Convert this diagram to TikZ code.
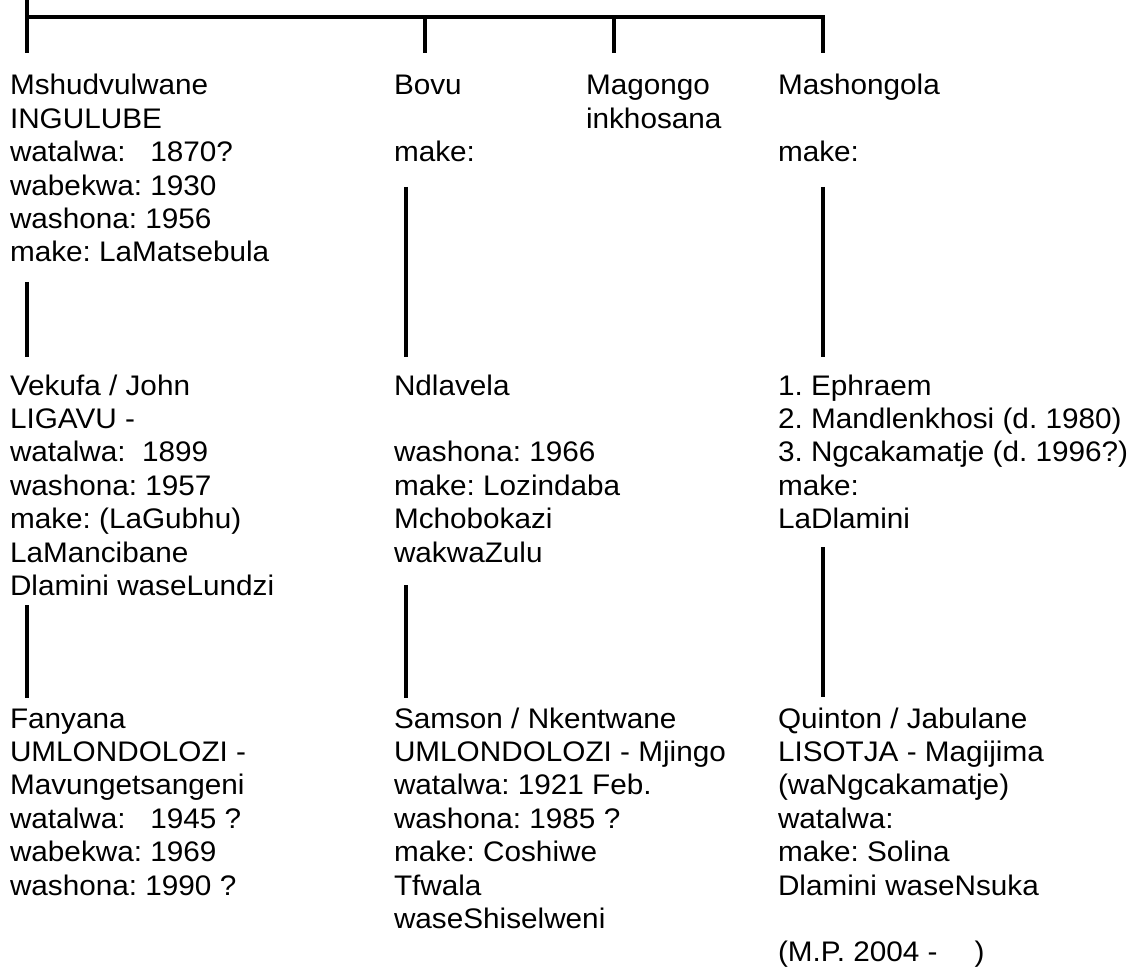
\documentclass[tikz,border=0pt]{standalone}
\usepackage{fontspec}
\setmainfont{Liberation Sans}[FakeStretch=1.05]
\frenchspacing
\newcommand\personrows[1]{\begin{tabular}[t]{@{}l@{}}#1\end{tabular}}
\tikzset{
  person/.style={anchor=base west, inner sep=0pt, outer sep=0pt,
    font=\fontsize{28.3}{33.4}\selectfont},
  treeline/.style={line width=3.2pt, line join=miter, line cap=butt}
}
\begin{document}
\begin{tikzpicture}[x=1pt,y=1pt]
\useasboundingbox (0,0) rectangle (1135,-968);
% people
\node[person] (n11) at (10,-95) {\personrows{Mshudvulwane\\INGULUBE\\watalwa:\ \ \ 1870?\\wabekwa: 1930\\washona: 1956\\make: LaMatsebula}};
\node[person] (n12) at (394,-95) {\personrows{Bovu\\ \\make:}};
\node[person] (n13) at (586,-95) {\personrows{Magongo\\inkhosana}};
\node[person] (n14) at (778,-95) {\personrows{Mashongola\\ \\make:}};
\node[person] (n21) at (10,-395) {\personrows{Vekufa / John\\LIGAVU -\\watalwa:\ \ 1899\\washona: 1957\\make: (LaGubhu)\\LaMancibane\\Dlamini waseLundzi}};
\node[person] (n22) at (394,-395) {\personrows{Ndlavela\\ \\washona: 1966\\make: Lozindaba\\Mchobokazi\\wakwaZulu}};
\node[person] (n24) at (778,-395) {\personrows{1. Ephraem\\2. Mandlenkhosi (d. 1980)\\3. Ngcakamatje (d. 1996?)\\make:\\LaDlamini}};
\node[person] (n31) at (10,-728) {\personrows{Fanyana\\UMLONDOLOZI -\\Mavungetsangeni\\watalwa:\ \ \ 1945 ?\\wabekwa: 1969\\washona: 1990 ?}};
\node[person] (n32) at (394,-728) {\personrows{Samson / Nkentwane\\UMLONDOLOZI - Mjingo\\watalwa: 1921 Feb.\\washona: 1985 ?\\make: Coshiwe\\Tfwala\\waseShiselweni}};
\node[person] (n34) at (778,-728) {\personrows{Quinton / Jabulane\\LISOTJA - Magijima\\(waNgcakamatje)\\watalwa:\\make: Solina\\Dlamini waseNsuka\\ \\(M.P. 2004 -\hspace{37pt})}};
% connector points
\coordinate (top) at (27,0);
\coordinate (b1) at (27,-17);
\coordinate (b2) at (425,-17);
\coordinate (b3) at (614,-17);
\coordinate (b4) at (823,-17);
\coordinate (t1) at (27,-53);
\coordinate (t2) at (425,-53);
\coordinate (t3) at (614,-53);
\coordinate (t4) at (823,-53);
\coordinate (a1s) at (27,-282);  \coordinate (a1e) at (27,-357);
\coordinate (a2s) at (406,-187); \coordinate (a2e) at (406,-357);
\coordinate (a4s) at (823,-187); \coordinate (a4e) at (823,-357);
\coordinate (c1s) at (27,-605);  \coordinate (c1e) at (27,-698);
\coordinate (c2s) at (406,-585); \coordinate (c2e) at (406,-698);
\coordinate (c4s) at (823,-547); \coordinate (c4e) at (823,-697);
% tree lines
\draw[treeline] (top) -- (t1);
\draw[treeline] (b1) -- (b4) -- (t4);
\draw[treeline] (b2) -- (t2);
\draw[treeline] (b3) -- (t3);
\draw[treeline] (a1s) -- (a1e);
\draw[treeline] (a2s) -- (a2e);
\draw[treeline] (a4s) -- (a4e);
\draw[treeline] (c1s) -- (c1e);
\draw[treeline] (c2s) -- (c2e);
\draw[treeline] (c4s) -- (c4e);
\end{tikzpicture}
\end{document}
